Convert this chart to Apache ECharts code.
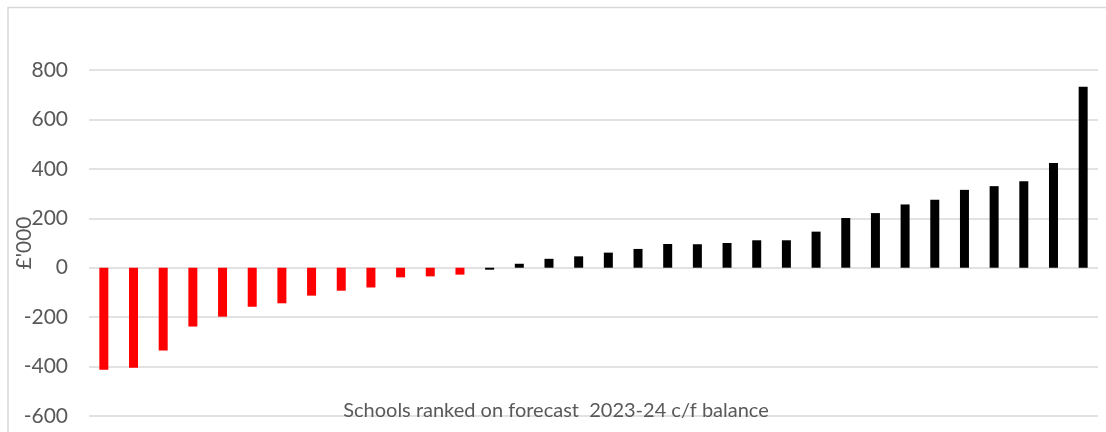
<!DOCTYPE html>
<html>
<head>
<meta charset="utf-8">
<script src="https://cdn.jsdelivr.net/npm/echarts@6/dist/echarts.min.js"></script>
<style>
html,body{margin:0;padding:0;background:#fff;}
#chart{width:1106px;height:432px;}
</style>
</head>
<body>
<div id="chart"></div>
<script>
// Schools ranked 1..34 on forecast 2023-24 c/f balance (£'000)
const categories = ['1','2','3','4','5','6','7','8','9','10','11','12','13','14','15','16','17',
  '18','19','20','21','22','23','24','25','26','27','28','29','30','31','32','33','34'];
// first 13 schools (red)
const deficitValues = [-413, -405, -335, -238, -198, -158, -144, -113, -93, -80, -39, -35, -28];
// remaining 21 schools (black)
const otherValues = [-8, 16, 36, 46, 61, 76, 96, 95, 100, 111, 111, 146, 201, 221, 256, 275, 315, 330, 350, 424, 732];
const yTicks = { min: -600, max: 800, interval: 200 };
const yName = "£'000";
const xTitle = 'Schools ranked on forecast  2023-24 c/f balance';

const n = categories.length;
const redData = categories.map((c, i) => i < deficitValues.length ? deficitValues[i] : '-');
const blackData = categories.map((c, i) => {
  const j = i - (n - otherValues.length);
  return j >= 0 ? otherValues[j] : '-';
});

const chart = echarts.init(document.getElementById('chart'), null, {renderer: 'canvas'});
const font = 'Lato, "Liberation Sans", sans-serif';
chart.setOption({
  animation: false,
  backgroundColor: '#ffffff',
  grid: { left: 89, right: 8, top: 70, bottom: 16, containLabel: false, outerBoundsMode: 'none' },
  xAxis: {
    type: 'category',
    data: categories,
    axisLine: { show: false },
    axisTick: { show: false },
    axisLabel: { show: false },
    splitLine: { show: false }
  },
  yAxis: {
    type: 'value',
    min: yTicks.min, max: yTicks.max, interval: yTicks.interval,
    name: yName,
    nameLocation: 'middle',
    nameGap: 54,
    nameRotate: 90,
    nameMoveOverlap: false,
    nameTextStyle: { color: '#595959', fontSize: 21, fontFamily: font },
    axisLine: { show: false },
    axisTick: { show: false },
    axisLabel: { color: '#595959', fontSize: 21, fontFamily: font, margin: 21 },
    splitLine: { lineStyle: { color: '#d9d9d9', width: 1.5 } }
  },
  series: [
    { type: 'bar', name: 'deficit', data: redData, barWidth: 9, barGap: '-100%',
      itemStyle: { color: '#ff0000' } },
    { type: 'bar', name: 'other', data: blackData, barWidth: 9, barGap: '-100%',
      itemStyle: { color: '#000000' } }
  ],
  graphic: [
    { type: 'rect', silent: true, z: 100,
      shape: { x: 8, y: 7.5, width: 1200, height: 1000 },
      style: { fill: 'none', stroke: '#d9d9d9', lineWidth: 1.5 } },
    { type: 'text', silent: true, z: 100, x: 556, y: 411,
      style: { text: xTitle, fill: '#595959', font: '20px ' + font,
               textAlign: 'center', textVerticalAlign: 'middle' } }
  ]
});
</script>
</body>
</html>
